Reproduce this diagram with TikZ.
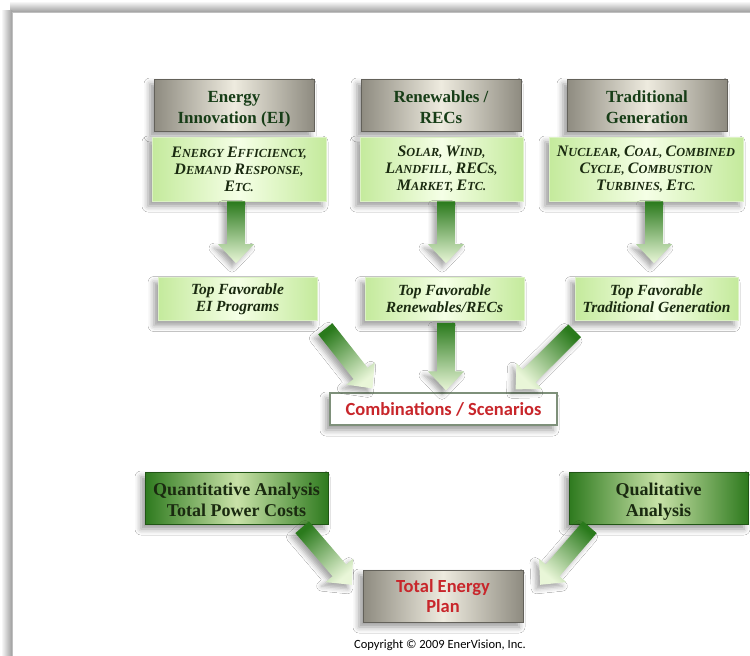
\documentclass[tikz,border=0pt]{standalone}
\usepackage{fontspec}
\setmainfont{Liberation Serif}
\newfontfamily\carlito{Carlito}
\usetikzlibrary{shadows,shadows.blur,calc}
\definecolor{hdgray}{HTML}{8E8B80}
\definecolor{hdlight}{HTML}{EEEBDF}
\definecolor{lgedge}{HTML}{C4EA9C}
\definecolor{lgmid}{HTML}{F5FFE6}
\definecolor{dgedge}{HTML}{2E7A1E}
\definecolor{dgmid}{HTML}{C9E2A8}
\definecolor{txtgreen}{HTML}{173D17}
\definecolor{txtdark}{HTML}{1A2A10}
\definecolor{redtxt}{HTML}{C8262B}
\definecolor{arrdark}{HTML}{2A7A1C}
\definecolor{arrlight}{HTML}{E9F6D8}
\definecolor{cbborder}{HTML}{7E907A}
\newcommand\smc[2]{{\fontsize{16}{17}\selectfont#1}{\fontsize{12.3}{17}\selectfont#2}}
% block arrow from #1 (tail) to #2 (tip)
\newcommand\barrowpath{({\x1-9*\n3},{\y1+9*\n2}) -- ({\x2-19*\n2-9*\n3},{\y2-19*\n3+9*\n2}) -- ({\x2-19*\n2-18*\n3},{\y2-19*\n3+18*\n2}) -- (\p2) -- ({\x2-19*\n2+18*\n3},{\y2-19*\n3-18*\n2}) -- ({\x2-19*\n2+9*\n3},{\y2-19*\n3-9*\n2}) -- ({\x1+9*\n3},{\y1-9*\n2}) -- cycle}
\newcommand\barrow[2]{%
  \path let \p1=(#1), \p2=(#2), \n4={atan2(\y2-\y1,\x2-\x1)} in \pgfextra{\xdef\barang{\n4}};
  \path[arrshadow] let \p1=(#1), \p2=(#2), \n1={veclen(\x2-\x1,\y2-\y1)}, \n2={(\x2-\x1)/\n1}, \n3={(\y2-\y1)/\n1} in \barrowpath;
  \shade[top color=arrlight, bottom color=arrdark, shading angle={\barang-90}] let \p1=(#1), \p2=(#2), \n1={veclen(\x2-\x1,\y2-\y1)}, \n2={(\x2-\x1)/\n1}, \n3={(\y2-\y1)/\n1} in \barrowpath;
}
\tikzset{
  softshadow/.style={blur shadow={shadow xshift=-4pt, shadow yshift=-5pt, shadow blur radius=6pt}},
  arrshadow/.style={blur shadow={shadow xshift=-4pt, shadow yshift=-4pt, shadow blur radius=5pt, shadow opacity=35}},
  graybox/.style={minimum width=160pt, minimum height=52pt, inner sep=0pt, left color=hdgray, right color=hdgray, middle color=hdlight, draw=hdgray!70!black, line width=0.4pt, softshadow, align=center},
  hdtext/.style={font=\fontsize{17}{21}\selectfont\bfseries, text=txtgreen, text height=37pt, text depth=0pt},
  lgbox/.style={minimum height=64pt, inner sep=0pt, left color=lgedge, right color=lgedge, middle color=lgmid, draw=lgedge!60!white, line width=0.6pt, softshadow, align=center, font=\bfseries\itshape\fontsize{13}{17}\selectfont, text=txtdark},
  tfbox/.style={lgbox, minimum height=43pt, font=\bfseries\itshape\fontsize{15.5}{17}\selectfont},
  dgbox/.style={minimum height=52pt, inner sep=0pt, left color=dgedge, right color=dgedge, middle color=dgmid, draw=dgedge!70!black, line width=0.4pt, softshadow, align=center, font=\fontsize{18}{21}\selectfont\bfseries, text=txtdark, text height=37pt, text depth=0pt},
  redtext/.style={font=\carlito\bfseries\fontsize{18.5}{20}\selectfont, text=redtxt}
}
\begin{document}
\begin{tikzpicture}[x=1pt,y=-1pt]
\useasboundingbox (0,0) rectangle (750,656);
\fill[white] (0,0) rectangle (750,656);
\shade[top color=white, bottom color=black!38] (10,1) rectangle (750,12);
\shade[left color=white, right color=black!38] (1,10) rectangle (12,656);
\fill[white] (12,12) rectangle (750,656);
\draw[black!25, line width=0.5pt] (12,656) -- (12,12) -- (750,12);

% header boxes
\node[graybox, hdtext] (h1) at (234,105) {Energy\\Innovation (EI)};
\node[graybox, hdtext] (h2) at (441,105) {Renewables /\\RECs};
\node[graybox, hdtext] (h3) at (647,105) {Traditional\\Generation};

% light green description boxes
\node[lgbox, minimum width=174pt] (g1) at (239,169) {\smc{E}{NERGY} \smc{E}{FFICIENCY,}\\\smc{D}{EMAND} \smc{R}{ESPONSE,}\\\smc{E}{TC.}};
\node[lgbox, minimum width=163pt] (g2) at (441.5,169) {\smc{S}{OLAR,} \smc{W}{IND,}\\\smc{L}{ANDFILL,} \smc{REC}{S,}\\\smc{M}{ARKET,} \smc{E}{TC.}};
\node[lgbox, minimum width=194pt] (g3) at (646,169) {\smc{N}{UCLEAR,} \smc{C}{OAL,} \smc{C}{OMBINED}\\\smc{C}{YCLE,} \smc{C}{OMBUSTION}\\\smc{T}{URBINES,} \smc{E}{TC.}};

% top favorable boxes
\node[tfbox, minimum width=159pt] (t1) at (237.5,299) {Top Favorable\\EI Programs};
\node[tfbox, minimum width=159pt] (t2) at (444.5,299) {Top Favorable\\Renewables/RECs};
\node[tfbox, minimum width=163pt] (t3) at (656.5,299) {Top Favorable\\Traditional Generation};

% combinations box
\node[minimum width=227pt, minimum height=32pt, inner sep=0pt, fill=white, draw=cbborder, line width=1.2pt, softshadow, redtext] (cb) at (443.5,409) {Combinations / Scenarios};

% analysis boxes
\node[dgbox, minimum width=183pt] (q1) at (236.5,498) {Quantitative Analysis\\Total Power Costs};
\node[dgbox, minimum width=179pt] (q2) at (658.5,498) {Qualitative\\Analysis};

% total energy plan
\node[graybox, redtext] (tp) at (443,596) {Total Energy\\Plan};

% copyright
\node[font=\carlito\fontsize{12.5}{14}\selectfont, text=black] (cr) at (440,645) {Copyright © 2009 EnerVision, Inc.};

% arrows
\barrow{$(g1.south)+(-3,0)$}{$(t1.north)+(-1.5,-14)$}
\barrow{$(g2.south)+(4.5,0)$}{$(t2.north)+(1.5,-14)$}
\barrow{$(g3.south)+(8,0)$}{$(t3.north)+(-2.5,-14)$}
\barrow{$(t1.south east)+(8,8)$}{$(cb.north west)+(43,-4)$}
\barrow{$(t2.south)+(1.5,2)$}{$(cb.north)+(2.5,-2)$}
\barrow{$(t3.south west)+(0,10)$}{$(cb.north east)+(-42,-3)$}
\barrow{$(q1.south east)+(-26,3)$}{$(tp.north west)+(-11,15)$}
\barrow{$(q2.south west)+(21,3)$}{$(tp.north east)+(17,15)$}
\end{tikzpicture}
\end{document}
